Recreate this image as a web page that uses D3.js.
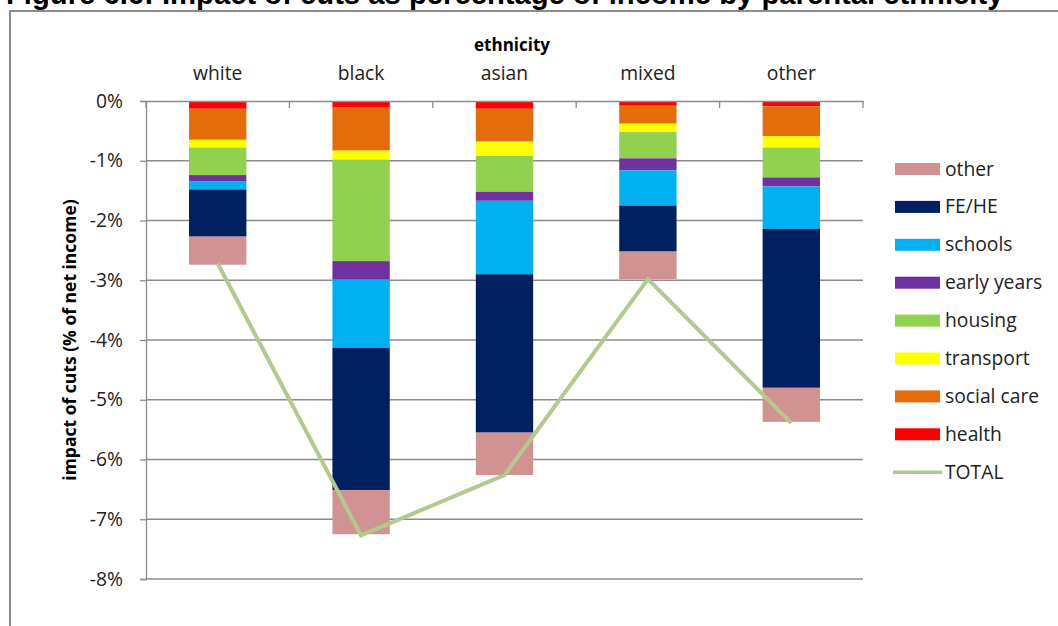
<!DOCTYPE html>
<html><head><meta charset="utf-8">
<script src="https://cdn.jsdelivr.net/npm/d3@7"></script>
<style>body{margin:0;background:#fff;overflow:hidden}svg{display:block}</style>
</head><body><svg id="c" width="1058" height="626"></svg>
<script>
const categories = ["white","black","asian","mixed","other"];
const seriesNames = ["health","social care","transport","housing","early years","schools","FE/HE","other"];
const health      = [0.13, 0.11, 0.13, 0.08, 0.09];
const socialCare  = [0.52, 0.72, 0.55, 0.30, 0.50];
const transport   = [0.13, 0.15, 0.24, 0.14, 0.19];
const housing     = [0.46, 1.70, 0.60, 0.44, 0.50];
const earlyYears  = [0.10, 0.31, 0.15, 0.20, 0.15];
const schools     = [0.14, 1.14, 1.23, 0.59, 0.71];
const feHe        = [0.79, 2.38, 2.65, 0.77, 2.66];
const otherCuts   = [0.47, 0.74, 0.71, 0.46, 0.57];
const total       = [-2.72, -7.27, -6.26, -2.98, -5.39];
const yTicks = [0,-1,-2,-3,-4,-5,-6,-7,-8];
const legendOrder = ["other","FE/HE","schools","early years","housing","transport","social care","health","TOTAL"];

const seriesValues = [health, socialCare, transport, housing, earlyYears, schools, feHe, otherCuts];
const colors = {"health":"#ff0000","social care":"#e46c0a","transport":"#ffff00","housing":"#92d050",
  "early years":"#7030a0","schools":"#00b0f0","FE/HE":"#002060","other":"#d09392","TOTAL":"#b2ca8e"};

const svg = d3.select("#c");
const font = "'Open Sans', Lato, sans-serif";
const fs = 19.3;

// frame
svg.append("path").attr("d","M10,630 L10,11 L1060,11").attr("fill","none").attr("stroke","#8c8c8c").attr("stroke-width",2);

// title (cropped at top, as in the reference)
const title = svg.append("text").attr("x",6).attr("y",4).attr("font-family","Liberation Sans, Arial, sans-serif")
  .attr("font-weight","bold").attr("font-size",22).attr("fill","#000")
  .text("Figure 6.6: Impact of cuts as percentage of income by parental ethnicity");
{ const w = title.node().getComputedTextLength(); title.attr("font-size", 22*998/w); }

const pLeft=146, pRight=863, pTop=101, pBottom=579;
const x = d3.scaleBand().domain(categories).range([pLeft,pRight]).paddingInner(0).paddingOuter(0);
const y = d3.scaleLinear().domain([-8,0]).range([pBottom,pTop]);
const barW = x.bandwidth()*0.4;

// gridlines
svg.append("g").selectAll("line").data(yTicks.filter(d=>d!==0)).join("line")
  .attr("x1",pLeft).attr("x2",pRight).attr("y1",d=>y(d)).attr("y2",d=>y(d))
  .attr("stroke","#8c8c8c").attr("stroke-width",1.3);

// y axis
const yAxis = d3.axisLeft(y).tickValues(yTicks).tickFormat(d=>d+"%").tickSize(6).tickPadding(17);
const gy = svg.append("g").attr("transform",`translate(${pLeft},0)`).call(yAxis);
gy.select(".domain").attr("stroke","#8c8c8c").attr("stroke-width",1.3);
gy.selectAll(".tick line").attr("stroke","#8c8c8c").attr("stroke-width",1.3);
gy.selectAll(".tick text").attr("font-family",font).attr("font-size",fs).attr("fill","#222");

// stacked bars
const rows = categories.map((c,i)=>{const o={cat:c}; seriesNames.forEach((s,j)=>o[s]=seriesValues[j][i]); return o;});
const stack = d3.stack().keys(seriesNames)(rows);
const gb = svg.append("g");
stack.forEach(layer=>{
  gb.append("g").attr("fill",colors[layer.key]).selectAll("rect").data(layer).join("rect")
    .attr("x",d=>x(d.data.cat)+(x.bandwidth()-barW)/2).attr("width",barW)
    .attr("y",d=>y(-d[0])).attr("height",d=>y(-d[1])-y(-d[0]));
});

// top x axis
const xAxis = d3.axisBottom(x).tickSize(0).tickFormat("");
const gx = svg.append("g").attr("transform",`translate(0,${pTop})`).call(xAxis);
gx.select(".domain").attr("stroke","#8c8c8c").attr("stroke-width",1.3);
const bounds = categories.map(c=>x(c)).concat([pRight]);
svg.append("g").selectAll("line").data(bounds).join("line")
  .attr("x1",d=>d).attr("x2",d=>d).attr("y1",pTop).attr("y2",pTop+7).attr("stroke","#8c8c8c").attr("stroke-width",1.3);
svg.append("g").selectAll("text").data(categories).join("text")
  .attr("x",d=>x(d)+x.bandwidth()/2).attr("y",80).attr("text-anchor","middle")
  .attr("font-family",font).attr("font-size",fs).attr("fill","#222").text(d=>d);
svg.append("text").attr("x",512).attr("y",51).attr("text-anchor","middle").attr("font-family",font)
  .attr("font-weight","bold").attr("font-size",17).attr("fill","#000").text("ethnicity");

// total line
const line = d3.line().x((d,i)=>x(categories[i])+x.bandwidth()/2).y(d=>y(d));
svg.append("path").datum(total).attr("d",line).attr("fill","none").attr("stroke",colors.TOTAL).attr("stroke-width",4);

// y title
svg.append("text").attr("transform",`translate(76,340) rotate(-90)`).attr("text-anchor","middle")
  .attr("font-family",font).attr("font-weight","bold").attr("font-size",17.5).attr("fill","#000")
  .text("impact of cuts (% of net income)");

// legend
const lg = svg.append("g").selectAll("g").data(legendOrder).join("g")
  .attr("transform",(d,i)=>`translate(895,${169+i*37.9})`);
lg.each(function(d){
  const g=d3.select(this);
  if(d==="TOTAL") g.append("line").attr("x1",-2).attr("x2",47).attr("y1",0).attr("y2",0).attr("stroke",colors[d]).attr("stroke-width",3.5);
  else g.append("rect").attr("x",0).attr("y",-6).attr("width",45).attr("height",12).attr("fill",colors[d]);
});
lg.append("text").attr("x",50).attr("y",6.5).attr("font-family",font).attr("font-size",fs).attr("fill","#222").text(d=>d);
</script></body></html>
